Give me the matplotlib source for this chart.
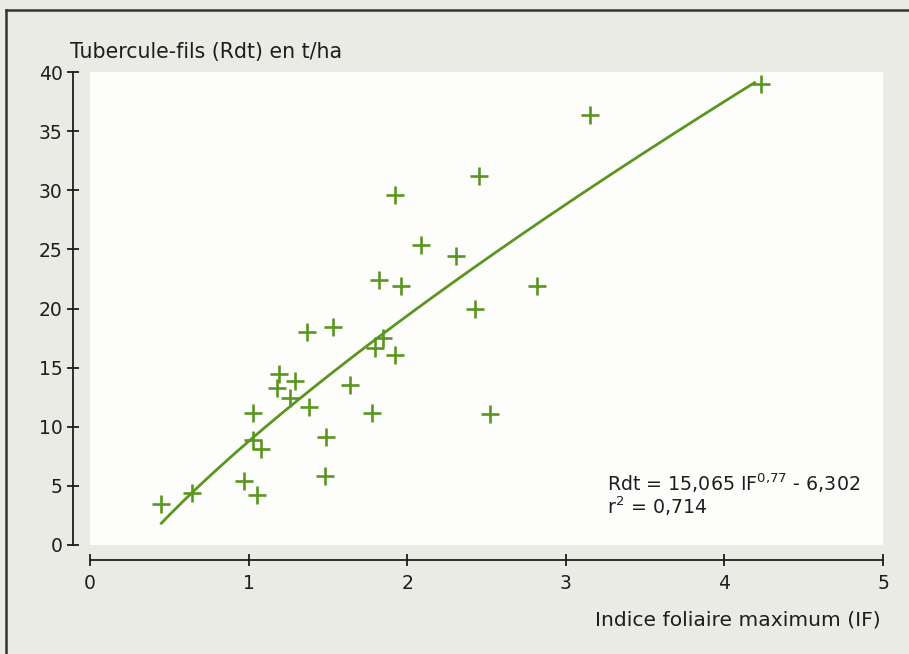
import numpy as np
import matplotlib
matplotlib.use("Agg")
import matplotlib.pyplot as plt
from matplotlib.lines import Line2D

# Data
leaf_index = [0.45, 0.64, 0.97, 1.05, 1.03, 1.03, 1.08, 1.19, 1.18, 1.29, 1.26,
              1.38, 1.37, 1.53, 1.64, 1.49, 1.48, 1.78, 1.85, 1.80, 1.92, 1.82,
              1.96, 1.92, 2.09, 2.31, 2.45, 2.43, 2.82, 2.52, 3.15, 4.23]
yield_tha = [3.5, 4.4, 5.4, 4.2, 11.2, 8.9, 8.1, 14.5, 13.3, 13.9, 12.4,
             11.7, 18.0, 18.4, 13.5, 9.1, 5.8, 11.2, 17.5, 16.7, 16.1, 22.4,
             21.9, 29.6, 25.4, 24.4, 31.2, 20.0, 21.9, 11.1, 36.4, 39.0]

# Fitted model shown on the chart: Rdt = a * IF^b + c
fit_a, fit_b, fit_c = 15.065, 0.77, -6.302
fit_range = [0.45, 4.19]

x_ticks = [0, 1, 2, 3, 4, 5]
y_ticks = [0, 5, 10, 15, 20, 25, 30, 35, 40]

green = "#5a961f"
bg = "#ebebe6"
dark = "#1e1e1e"
font = "DejaVu Sans"
plt.rcParams["font.family"] = [font]
plt.rcParams["mathtext.fontset"] = "dejavusans"

W, H = 909, 654
fig = plt.figure(figsize=(W / 100, H / 100), dpi=100, facecolor=bg)
fig.patch.set_linewidth(0)

# outer frame (top and left edges visible)
fig.add_artist(Line2D([6 / W, 6 / W], [-0.01, 1 - 10 / H], transform=fig.transFigure,
                      color="#333333", lw=1.8))
fig.add_artist(Line2D([6 / W, 1.01], [1 - 10 / H, 1 - 10 / H], transform=fig.transFigure,
                      color="#333333", lw=1.8))

ax = fig.add_axes([90 / W, 1 - 545 / H, (883 - 90) / W, (545 - 72) / H])
ax.set_facecolor("#fdfdfb")
ax.set_xlim(0, 5)
ax.set_ylim(0, 40)

xf = np.linspace(fit_range[0], fit_range[1], 200)
ax.plot(xf, fit_a * xf ** fit_b + fit_c, color=green, lw=2.0, zorder=3)
ax.plot(leaf_index, yield_tha, linestyle="none", marker="+", markersize=12.5,
        markeredgewidth=1.9, color=green, zorder=4)

for s in ["top", "right"]:
    ax.spines[s].set_visible(False)
ax.spines["left"].set_position(("outward", 12.2))
ax.spines["bottom"].set_position(("outward", 10.8))
for s in ["left", "bottom"]:
    ax.spines[s].set_color(dark)
    ax.spines[s].set_linewidth(1.3)
ax.spines["left"].set_bounds(0, 40)
ax.spines["bottom"].set_bounds(0, 5)

ax.set_xticks(x_ticks)
ax.set_yticks(y_ticks)
ax.set_xticklabels([str(t) for t in x_ticks], fontsize=13.5, color=dark)
ax.set_yticklabels([str(t) for t in y_ticks], fontsize=13.5, color=dark)
ax.tick_params(axis="y", direction="inout", length=8, width=1.3, color=dark, pad=3.5)
ax.tick_params(axis="x", direction="inout", length=8, width=1.3, color=dark, pad=6)

fig.text(70 / W, 1 - 58 / H, "Tubercule-fils (Rdt) en t/ha",
         fontsize=14.8, color=dark, ha="left", va="baseline")
fig.text(881 / W, 1 - 625 / H, "Indice foliaire maximum (IF)",
         fontsize=14.6, color=dark, ha="right", va="baseline")

ax.text(3.26, 4.6, r"Rdt = 15,065 IF$^{0{,}77}$ - 6,302",
        fontsize=13.7, color=dark, ha="left", va="baseline")
ax.text(3.26, 2.6, r"r$^{2}$ = 0,714",
        fontsize=13.7, color=dark, ha="left", va="baseline")

fig.savefig("out.png", dpi=100, facecolor=bg, edgecolor=bg)
